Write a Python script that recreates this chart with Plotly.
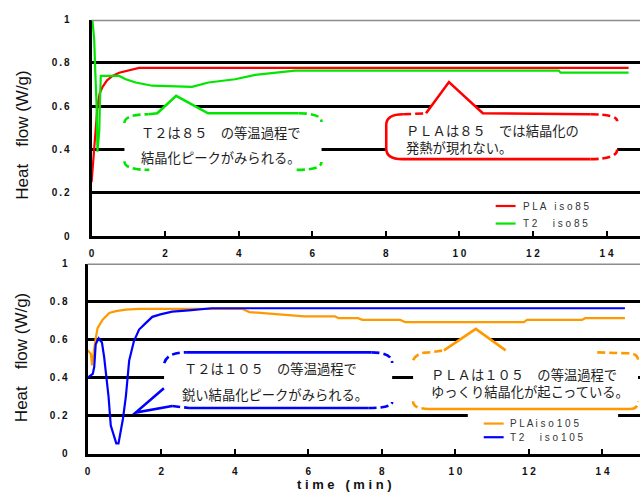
import plotly.graph_objects as go

# ---------------- data: isothermal DSC runs ----------------
# 85 °C
PLA85_TIME = [0.0, 0.04, 0.07, 0.12, 0.16, 0.22, 0.30, 0.42, 0.57, 0.75, 0.93, 1.20, 1.29, 14.6]
PLA85_HF = [0.25, 0.33, 0.43, 0.53, 0.60, 0.66, 0.69, 0.72, 0.74, 0.755, 0.763, 0.772, 0.777, 0.777]

T2_85_TIME = [0.02, 0.07, 0.10, 0.135, 0.16, 0.21, 0.225, 0.25, 0.39, 0.75, 0.93, 1.20, 1.65,
              2.73, 3.18, 3.90, 4.45, 5.08, 5.53, 12.7, 12.75, 14.6]
T2_85_HF = [1.0, 0.913, 0.763, 0.61, 0.39, 0.49, 0.61, 0.74, 0.74, 0.74, 0.725, 0.71, 0.695,
            0.69, 0.71, 0.725, 0.745, 0.755, 0.765, 0.765, 0.755, 0.755]

# 105 °C
PLA105_TIME = [0.0, 0.09, 0.12, 0.18, 0.21, 0.27, 0.41, 0.59, 0.77, 1.04, 1.40, 4.2, 4.4, 5.2,
               5.9, 6.73, 6.83, 7.35, 7.47, 8.5, 8.64, 11.86, 11.95, 13.44, 13.53, 14.61]
PLA105_HF = [0.545, 0.525, 0.465, 0.56, 0.595, 0.66, 0.705, 0.74, 0.75, 0.758, 0.762, 0.762,
             0.745, 0.733, 0.722, 0.722, 0.713, 0.713, 0.704, 0.704, 0.692, 0.692, 0.704,
             0.704, 0.713, 0.713]

T2_105_TIME = [0.0, 0.14, 0.18, 0.22, 0.30, 0.39, 0.45, 0.50, 0.57, 0.63, 0.72, 0.78, 0.84,
               0.90, 0.96, 1.04, 1.13, 1.26, 1.40, 1.58, 1.76, 1.98, 2.30, 2.75, 3.20, 3.38, 14.61]
T2_105_HF = [0.40, 0.42, 0.456, 0.576, 0.607, 0.585, 0.508, 0.42, 0.30, 0.149, 0.09, 0.055,
             0.055, 0.115, 0.183, 0.30, 0.49, 0.593, 0.653, 0.687, 0.72, 0.733, 0.747, 0.754,
             0.76, 0.765, 0.765]

SERIES_NAMES = ["PLA iso85", "T2\u3000iso85", "PLAiso105", "T2\u3000iso105"]
SERIES_COLORS = ["#FF0000", "#00E600", "#FF9900", "#0000FF"]

X_TICKS = [0, 2, 4, 6, 8, 10, 12, 14]
X_TICK_TEXT = ["0", "2", "4", "6", "8", "1 0", "1 2", "1 4"]
Y_TICKS = [0, 0.2, 0.4, 0.6, 0.8, 1]
Y_TICK_TEXT = ["0", "0.2", "0.4", "0.6", "0.8", "1"]

Y_TITLE = "Heat\u3000flow (W/g)"
X_TITLE = "time (min)"

NOTE_T2_85 = ["Ｔ２は８５　の等温過程で", "結晶化ピークがみられる。"]
NOTE_PLA_85 = ["ＰＬＡは８５　では結晶化の", "発熱が現れない。"]
NOTE_T2_105 = ["Ｔ２は１０５　の等温過程で", "鋭い結晶化ピークがみられる。"]
NOTE_PLA_105 = ["ＰＬＡは１０５　の等温過程で", "ゆっくり結晶化が起こっている。"]

# ---------------- helpers ----------------
LATIN = "Arial, 'Liberation Sans', sans-serif"
CJK = "'Noto Sans CJK JP', sans-serif"


def spread(s, sep=" "):
    """Letter-spaced label."""
    return sep.join(s)


def thin(s):
    return s.replace(".", "\u2009.\u2009")


fig = go.Figure()

# ---------------- traces ----------------
fig.add_trace(go.Scatter(x=PLA85_TIME, y=PLA85_HF, name=SERIES_NAMES[0], mode="lines",
                         line=dict(color=SERIES_COLORS[0], width=2.2), xaxis="x", yaxis="y"))
fig.add_trace(go.Scatter(x=T2_85_TIME, y=T2_85_HF, name=SERIES_NAMES[1], mode="lines",
                         line=dict(color=SERIES_COLORS[1], width=2.2), xaxis="x", yaxis="y"))
fig.add_trace(go.Scatter(x=PLA105_TIME, y=PLA105_HF, name=SERIES_NAMES[2], mode="lines",
                         line=dict(color=SERIES_COLORS[2], width=2.2), xaxis="x2", yaxis="y2"))
fig.add_trace(go.Scatter(x=T2_105_TIME, y=T2_105_HF, name=SERIES_NAMES[3], mode="lines",
                         line=dict(color=SERIES_COLORS[3], width=2.2), xaxis="x2", yaxis="y2"))

# ---------------- axes ----------------
tick_font = dict(family=LATIN, size=10, color="#111", weight="bold")


def x_axis(domain, rng, anchor):
    return dict(domain=domain, range=rng, anchor=anchor, tickvals=X_TICKS, ticktext=X_TICK_TEXT,
                ticks="inside", ticklen=5, tickwidth=2, tickcolor="black",
                showline=True, linecolor="black", linewidth=3, showgrid=False,
                zeroline=False, tickfont=tick_font, ticklabelstandoff=6, fixedrange=True)


def y_axis(domain, anchor, standoff):
    return dict(domain=domain, range=[0, 1], anchor=anchor, tickvals=Y_TICKS,
                ticktext=[thin(t) for t in Y_TICK_TEXT], ticks="",
                showline=True, linecolor="black", linewidth=3,
                showgrid=True, gridcolor="black", gridwidth=3, zeroline=False,
                tickfont=tick_font, ticklabelstandoff=standoff, fixedrange=True)


fig.update_layout(
    width=640, height=492, margin=dict(l=0, r=0, t=0, b=0),
    paper_bgcolor="white", plot_bgcolor="white", showlegend=False,
    xaxis=x_axis([89 / 640, 1.0], [0, 14.91], "y"),
    yaxis=y_axis([1 - 236 / 492, 1 - 14 / 492], "x", 17),
    xaxis2=x_axis([85 / 640, 1.0], [0, 15.02], "y2"),
    yaxis2=y_axis([1 - 459 / 492, 1 - 264 / 492], "x2", 15),
)

shapes = []
annotations = []

# gray frame line along the top of each panel
for xr, yr in (("x domain", "y"), ("x2 domain", "y2")):
    shapes.append(dict(type="line", xref=xr, yref=yr, x0=0, x1=1, y0=1, y1=1,
                       line=dict(color="#8c8c8c", width=3), layer="above"))

DASH = "8px,4px"


def callout(xr, yr, color, fill_path, pieces):
    shapes.append(dict(type="path", xref=xr, yref=yr, path=fill_path,
                       fillcolor="white", line=dict(width=0), layer="above"))
    for p, dashed in pieces:
        shapes.append(dict(type="path", xref=xr, yref=yr, path=p,
                           line=dict(color=color, width=2.6, dash=DASH if dashed else "solid"),
                           layer="above"))


# T2 at 85 °C
callout("x", "y", SERIES_COLORS[1],
        "M0.893,0.5225 Q0.893,0.563 1.543,0.563 L1.786,0.5676 L2.300,0.6486 L3.166,0.5676 "
        "L5.629,0.5676 Q6.252,0.5676 6.252,0.527 L6.252,0.3423 Q6.252,0.3063 5.575,0.3063 "
        "L1.570,0.3063 Q0.893,0.3063 0.893,0.3468 Z",
        [("M0.893,0.5225 Q0.893,0.563 1.543,0.563", True),
         ("M1.543,0.563 L1.786,0.5676 L2.300,0.6486 L3.166,0.5676 L5.629,0.5676", False),
         ("M5.629,0.5676 Q6.252,0.5676 6.252,0.527", True),
         ("M0.893,0.3468 Q0.893,0.3063 1.570,0.3063", True),
         ("M5.575,0.3063 Q6.252,0.3063 6.252,0.3423", True)])

# PLA at 85 °C
callout("x", "y", SERIES_COLORS[0],
        "M8.471,0.563 L9.093,0.5676 L9.716,0.7117 L10.636,0.5676 L13.559,0.563 "
        "Q14.290,0.563 14.290,0.5315 L14.290,0.4009 Q14.290,0.3559 13.559,0.3559 "
        "L8.444,0.3559 Q8.011,0.3559 8.011,0.4054 L8.011,0.5135 Q8.011,0.563 8.471,0.563 Z",
        [("M8.471,0.563 Q8.011,0.563 8.011,0.5135 L8.011,0.4054 Q8.011,0.3559 8.444,0.3559 "
          "L13.559,0.3559", False),
         ("M8.471,0.563 L9.093,0.5676", True),
         ("M9.093,0.5676 L9.716,0.7117 L10.636,0.5676 L13.559,0.563", False),
         ("M13.559,0.563 Q14.290,0.563 14.290,0.5315", True),
         ("M13.559,0.3559 Q14.290,0.3559 14.290,0.4009", True)])

# T2 at 105 °C
callout("x2", "y2", SERIES_COLORS[3],
        "M2.084,0.4769 Q2.165,0.5333 2.679,0.5333 L7.713,0.5333 Q8.281,0.5333 8.281,0.4769 "
        "L8.281,0.2718 Q8.281,0.2410 7.632,0.2410 L2.760,0.2410 L2.300,0.2513 L1.307,0.2170 "
        "L2.075,0.3450 Z",
        [("M2.084,0.4769 Q2.165,0.5333 2.679,0.5333", True),
         ("M2.679,0.5333 L7.713,0.5333", False),
         ("M7.713,0.5333 Q8.281,0.5333 8.281,0.4769", True),
         ("M2.075,0.3450 L1.307,0.2170 L2.300,0.2513", False),
         ("M2.300,0.2513 L2.760,0.2410", True),
         ("M2.760,0.2410 L7.632,0.2410", False),
         ("M7.632,0.2410 Q8.281,0.2410 8.281,0.2718", True)])

# PLA at 105 °C
callout("x2", "y2", SERIES_COLORS[2],
        "M8.850,0.4923 Q8.95,0.5333 9.283,0.5333 L9.689,0.5436 L10.555,0.6564 L11.367,0.5436 "
        "L13.857,0.5333 L14.696,0.5282 Q14.966,0.5282 14.966,0.4923 L14.966,0.2769 "
        "Q14.966,0.2359 14.750,0.2359 L9.283,0.2359 Q8.850,0.2359 8.850,0.2769 Z",
        [("M8.850,0.4923 Q8.95,0.5333 9.283,0.5333 L9.689,0.5436", True),
         ("M9.689,0.5436 L10.555,0.6564 L11.367,0.5436", False),
         ("M13.857,0.5333 L14.696,0.5282 Q14.966,0.5282 14.966,0.4923", True),
         ("M8.850,0.2769 Q8.850,0.2359 9.283,0.2359", True),
         ("M9.283,0.2359 L14.750,0.2359", False),
         ("M14.750,0.2359 Q14.966,0.2359 14.966,0.2769", True)])

note_font = dict(family=CJK, size=13.3, color="#1e1e1e")


def note(xr, yr, x, y, lines):
    annotations.append(dict(xref=xr, yref=yr, x=x, y=y, text="<br>".join(lines),
                            showarrow=False, align="left", xanchor="left", yanchor="middle",
                            font=note_font))


# widely spaced two-line notes use one annotation per line
note("x", "y", 1.299, 0.4775, NOTE_T2_85[:1])
note("x", "y", 1.299, 0.3649, NOTE_T2_85[1:])
note("x2", "y2", 2.571, 0.4462, NOTE_T2_105[:1])
note("x2", "y2", 2.517, 0.3128, NOTE_T2_105[1:])
# tightly set notes use a single block
note("x", "y", 8.498, 0.4482, NOTE_PLA_85)
note("x2", "y2", 9.283, 0.3744, NOTE_PLA_105)

# ---------------- legends ----------------
legend_font = dict(family=LATIN, size=10, color="#333")
# white backing for the lower legend
shapes.append(dict(type="rect", xref="paper", yref="paper", x0=467 / 640, x1=618 / 640,
                   y0=1 - 452 / 492, y1=1 - 417 / 492, fillcolor="white",
                   line=dict(width=0), layer="above"))
legend_rows = [
    (0, 495, 515, 520, 205),
    (1, 495, 515, 520, 223),
    (2, 483, 503, 507, 428),
    (3, 483, 503, 507, 442),
]
for idx, lx0, lx1, tx, ty in legend_rows:
    yp = 1 - ty / 492
    shapes.append(dict(type="line", xref="paper", yref="paper", x0=lx0 / 640, x1=lx1 / 640,
                       y0=yp, y1=yp, line=dict(color=SERIES_COLORS[idx], width=2.2),
                       layer="above"))
    annotations.append(dict(xref="paper", yref="paper", x=tx / 640, y=yp,
                            text=spread(SERIES_NAMES[idx]), showarrow=False,
                            xanchor="left", yanchor="middle", font=legend_font))

# ---------------- axis titles ----------------
title_font = dict(family=LATIN, size=17, color="#111")
for xp, yp in ((20, 132), (18, 360)):
    annotations.append(dict(xref="paper", yref="paper", x=xp / 640, y=1 - yp / 492,
                            text=Y_TITLE, textangle=-90, showarrow=False,
                            xanchor="center", yanchor="middle", font=title_font))
annotations.append(dict(xref="paper", yref="paper", x=343 / 640, y=1 - 490 / 492,
                        text=spread(X_TITLE), showarrow=False, xanchor="center",
                        yanchor="middle",
                        font=dict(family=LATIN, size=13, color="#111", weight="bold")))

fig.update_layout(shapes=shapes, annotations=annotations)
fig.write_html("out.html")
